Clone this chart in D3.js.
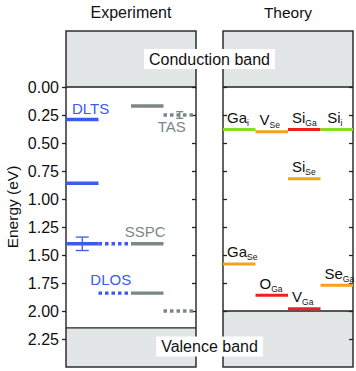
<!DOCTYPE html>
<html><head><meta charset="utf-8">
<script src="https://cdn.jsdelivr.net/npm/d3@7"></script>
<style>
body{margin:0;background:#fff;}
svg text{font-family:"Liberation Sans",Arial,Helvetica,sans-serif;}
</style></head>
<body><svg id="c" width="356" height="371"></svg>
<script>
// ---------- data ----------
const panels = ["Experiment", "Theory"];
const bandGaps = [2.15, 2.00];           // valence band edge (eV below CBM) for each panel
const yTicks = [0, 0.25, 0.5, 0.75, 1.0, 1.25, 1.5, 1.75, 2.0, 2.25];
const columns = [0, 1, 2, 3];

// experiment levels: column index, energy, style
const expColumn = [0, 0, 0, 1, 1, 2, 2, 2, 3, 3];
const expEnergy = [0.29, 0.86, 1.40, 1.40, 1.84, 0.17, 1.40, 1.84, 0.25, 2.00];
const expStyle  = ["blue", "blue", "blue", "blueDot", "blueDot", "gray", "gray", "gray", "grayDot", "grayDot"];
// error bars on experiment levels
const errColumn = [0, 3];
const errEnergy = [1.40, 0.25];
const errHalf   = [0.06, 0.03];
const errColor  = ["blue", "gray"];
// experiment technique labels
const expLabels = ["DLTS", "TAS", "SSPC", "DLOS"];
const expLabelColor = ["blue", "gray", "gray", "blue"];

// theory levels
const thMain   = ["Ga", "V", "Si", "Si", "Si", "Ga", "O", "V", "Se"];
const thSub    = ["i", "Se", "Ga", "i", "Se", "Se", "Ga", "Ga", "Ga"];
const thColumn = [0, 1, 2, 3, 2, 0, 1, 2, 3];
const thEnergy = [0.38, 0.40, 0.38, 0.38, 0.82, 1.58, 1.86, 1.98, 1.77];
const thColor  = ["green", "orange", "red", "green", "orange", "orange", "red", "red", "orange"];

// ---------- styles ----------
const colors = {blue:"#3a5af0", blueDot:"#3a5af0", gray:"#7b8686", grayDot:"#7b8686",
  green:"#85dd22", orange:"#f5a21e", red:"#ee1f1f"};
const dark = "#222";
const fill = "#e2e6e6";

const svg = d3.select("#c");
const y = d3.scaleLinear().domain([-0.5, 2.5]).range([31, 367]);
const px = [[66, 196], [223, 353]];
const xs = px.map(r => d3.scaleBand().domain(columns).range(r));

// band fills
panels.forEach((p, i) => {
  const [x0, x1] = px[i];
  svg.append("rect").attr("x", x0).attr("width", x1 - x0)
    .attr("y", y(-0.5)).attr("height", y(0) - y(-0.5)).attr("fill", fill);
  svg.append("rect").attr("x", x0).attr("width", x1 - x0)
    .attr("y", y(bandGaps[i])).attr("height", y(2.5) - y(bandGaps[i])).attr("fill", fill);
  [0, bandGaps[i]].forEach(e => svg.append("line").attr("x1", x0).attr("x2", x1)
    .attr("y1", y(e)).attr("y2", y(e)).attr("stroke", dark).attr("stroke-width", 1.3));
});

// axes
function styleAxis(g){
  g.select(".domain").remove();
  g.selectAll(".tick line").attr("stroke", dark).attr("stroke-width", 1.3);
  g.selectAll(".tick text").attr("fill", "#111").attr("font-size", 16)
    .attr("font-family", "Liberation Sans, Arial, sans-serif");
}
svg.append("g").attr("transform", `translate(${px[0][0]},0)`)
  .call(d3.axisLeft(y).tickValues(yTicks).tickFormat(d3.format(".2f")).tickSize(4).tickPadding(3))
  .call(styleAxis);
svg.append("g").attr("transform", `translate(${px[0][1]},0)`)
  .call(d3.axisRight(y).tickValues(yTicks).tickFormat("").tickSize(-4)).call(styleAxis);
svg.append("g").attr("transform", `translate(${px[1][0]},0)`)
  .call(d3.axisLeft(y).tickValues(yTicks).tickFormat("").tickSize(-4)).call(styleAxis);
svg.append("g").attr("transform", `translate(${px[1][1]},0)`)
  .call(d3.axisRight(y).tickValues(yTicks).tickFormat("").tickSize(-4)).call(styleAxis);

// frames
panels.forEach((p, i) => {
  const [x0, x1] = px[i];
  svg.append("rect").attr("x", x0).attr("y", y(-0.5)).attr("width", x1 - x0)
    .attr("height", y(2.5) - y(-0.5)).attr("fill", "none").attr("stroke", dark).attr("stroke-width", 1.4);
  svg.append("text").attr("x", (x0 + x1) / 2).attr("y", 17.5).attr("text-anchor", "middle")
    .attr("font-size", i === 0 ? 16 : 15.5).attr("fill", "#111").text(p);
});

// y title
svg.append("text").attr("transform", "translate(18,207) rotate(-90)")
  .attr("text-anchor", "middle").attr("font-size", 15.5).attr("fill", "#111").text("Energy (eV)");

// band labels with white boxes
function boxLabel(txt, cx, baseline){
  const g = svg.append("g");
  const t = g.append("text").attr("x", cx).attr("y", baseline).attr("text-anchor", "middle")
    .attr("font-size", 16).attr("fill", "#111").text(txt);
  const bb = t.node().getBBox();
  g.insert("rect", "text").attr("x", bb.x - 5).attr("y", bb.y - 1.5)
    .attr("width", bb.width + 10).attr("height", bb.height + 3).attr("fill", "#fff");
}
const midX = (px[0][1] + px[1][0]) / 2;
boxLabel("Conduction band", midX, 64.5);
boxLabel("Valence band", midX, 352);

// experiment levels
const expIdx = d3.range(expEnergy.length);
svg.append("g").selectAll("line").data(expIdx).join("line")
  .attr("x1", i => xs[0](expColumn[i])).attr("x2", i => xs[0](expColumn[i]) + xs[0].bandwidth())
  .attr("y1", i => y(expEnergy[i])).attr("y2", i => y(expEnergy[i]))
  .attr("stroke", i => colors[expStyle[i]]).attr("stroke-width", 3.4)
  .attr("stroke-dasharray", i => expStyle[i].endsWith("Dot") ? "3.5,3" : null);

// error bars
d3.range(errEnergy.length).forEach(i => {
  const cx = xs[0](errColumn[i]) + xs[0].bandwidth() / 2;
  const w = errColor[i] === "blue" ? 6.5 : 3.5;
  const g = svg.append("g").attr("stroke", colors[errColor[i]]).attr("stroke-width", 1.3);
  g.append("line").attr("x1", cx).attr("x2", cx).attr("y1", y(errEnergy[i] - errHalf[i])).attr("y2", y(errEnergy[i] + errHalf[i]));
  [-1, 1].forEach(s => g.append("line").attr("x1", cx - w).attr("x2", cx + w)
    .attr("y1", y(errEnergy[i] + s * errHalf[i])).attr("y2", y(errEnergy[i] + s * errHalf[i])));
});

// experiment labels (placed near their levels)
const expLabelPos = [
  {x: xs[0](0) + 6, y: y(0.29) - 5, anchor: "start"},
  {x: xs[0](3) + xs[0].bandwidth() / 2 - 8, y: y(0.25) + 17, anchor: "middle"},
  {x: xs[0](2) + xs[0].bandwidth() / 2 - 2, y: y(1.40) - 7, anchor: "middle"},
  {x: xs[0](1) + xs[0].bandwidth() / 2 - 4, y: y(1.84) - 8, anchor: "middle"}
];
expLabels.forEach((l, i) => {
  svg.append("text").attr("x", expLabelPos[i].x).attr("y", expLabelPos[i].y)
    .attr("text-anchor", expLabelPos[i].anchor).attr("font-size", 15)
    .attr("fill", colors[expLabelColor[i]]).text(l);
});

// theory levels
const thIdx = d3.range(thEnergy.length);
svg.append("g").selectAll("line").data(thIdx).join("line")
  .attr("x1", i => xs[1](thColumn[i])).attr("x2", i => xs[1](thColumn[i]) + xs[1].bandwidth())
  .attr("y1", i => y(thEnergy[i])).attr("y2", i => y(thEnergy[i]))
  .attr("stroke", i => colors[thColor[i]]).attr("stroke-width", 3);

thIdx.forEach(i => {
  const t = svg.append("text").attr("y", y(thEnergy[i]) - 6.5).attr("font-size", 15).attr("fill", "#111");
  t.append("tspan").text(thMain[i]);
  t.append("tspan").attr("font-size", 8.5).attr("dy", 3).text(thSub[i]);
  const w = t.node().getComputedTextLength();
  const off = Math.max(4, (xs[1].bandwidth() - w) / 2 - 2);
  t.attr("x", xs[1](thColumn[i]) + off);
});
</script></body></html>
